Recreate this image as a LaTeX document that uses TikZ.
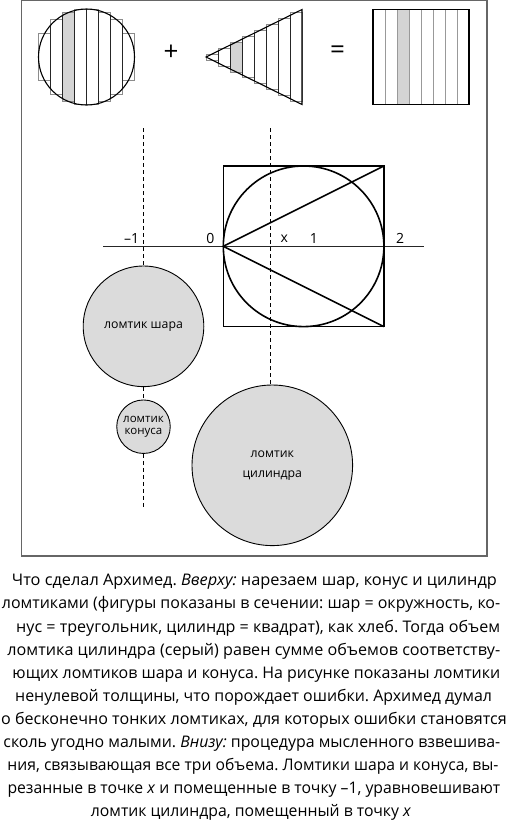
\documentclass[tikz,border=0pt]{standalone}
\usepackage{graphicx}
\usepackage{fontspec}
\setmainfont{Open Sans}
\frenchspacing
\begin{document}
\begin{tikzpicture}[x=1pt,y=-1pt,
  outerframe/.style={draw=black!60,line width=1.2pt},
  slicebox/.style={draw=black!45,line width=0.6pt,fill=white},
  divider/.style={draw=black!85,line width=0.7pt},
  cyldiv/.style={draw=black!40,line width=0.8pt},
  figoutline/.style={draw=black,line width=1.1pt},
  bigline/.style={draw=black,line width=1.6pt},
  axisline/.style={draw=black!85,line width=0.9pt},
  dashline/.style={draw=black,line width=0.9pt,dash pattern=on 4pt off 3pt},
  slicefill/.style={fill=black!17},
  disc/.style={circle,draw=black,line width=0.9pt,fill=black!14,inner sep=0pt,align=center},
  axlab/.style={font=\fontsize{14}{16}\selectfont,inner sep=0pt},
  opsign/.style={font=\fontsize{26}{26}\selectfont,inner sep=0pt},
  captionline/.style={anchor=base west,inner sep=0pt,font=\fontsize{16}{18}\selectfont}
]
\useasboundingbox (0,0) rectangle (508,823);
\draw[outerframe] (21.5,0.8) rectangle (487,556);

% ---- top: sphere sliced
\foreach \k in {0,...,7} {
  \pgfmathsetmacro\m{(\k+0.5)/4-1}
  \pgfmathsetmacro\h{48*sqrt(1-\m*\m)}
  \draw[slicebox] ({38.5+12*\k},{57-\h}) rectangle ({50.5+12*\k},{57+\h});
}
\draw[slicebox,slicefill] (62.5,12.5) rectangle (74.5,101.5);
\begin{scope}
  \clip (86.5,57) circle[radius=48pt];
  \foreach \k in {1,...,7} \draw[divider] ({38.5+12*\k},0) -- ({38.5+12*\k},120);
\end{scope}
\draw[figoutline] (86.5,57) circle[radius=48pt];

\node[opsign] (plus) at (171,53) {+};

% ---- top: cone sliced
\foreach \k in {0,...,7} {
  \pgfmathsetmacro\h{47.5*(\k+0.5)/8}
  \draw[slicebox] ({206+12*\k},{57-\h}) rectangle ({218+12*\k},{57+\h});
}
\draw[slicebox,slicefill] (230,42.2) rectangle (242,71.8);
\begin{scope}
  \clip (302,9.5) -- (206,57) -- (302,104.5) -- cycle;
  \foreach \k in {1,...,7} \draw[divider] ({206+12*\k},0) -- ({206+12*\k},120);
\end{scope}
\draw[figoutline] (302,9.5) -- (206,57) -- (302,104.5) -- cycle;

\node[opsign] (eq) at (337.5,52) {=};

% ---- top: cylinder sliced
\fill[slicefill] (397,9.5) rectangle (409,104.5);
\foreach \k in {1,...,7} \draw[cyldiv] ({373+12*\k},9.5) -- ({373+12*\k},104.5);
\draw[figoutline] (373,9.5) rectangle (469,104.5);

% ---- bottom: balance
\coordinate (O) at (223.3,246.3);
\coordinate (TR) at (383.9,166);
\coordinate (BR) at (383.9,326.6);
\draw[axisline] (103.3,246.3) -- (424,246.3);
\draw[bigline] (223.3,166) rectangle (BR);
\draw[bigline] (303.6,246.3) circle[radius=80.3pt];
\draw[bigline] (TR) -- (O) -- (BR);

\node[axlab] (lm1) at (131.7,238.3) {–1};
\node[axlab] (l0) at (210.5,238.3) {0};
\node[axlab] (lx) at (284.3,238.3) {x};
\node[axlab] (l1) at (314,238.3) {1};
\node[axlab] (l2) at (400,238.3) {2};

\coordinate (ltop) at (143.5,128.3);
\coordinate (lbot) at (143.5,506.7);
\coordinate (xtop) at (270.3,128.3);

\node[disc,minimum size=120.6pt,font=\fontsize{12.3}{14}\selectfont] (sph) at (143.5,326.3) {ломтик шара};
\node[disc,minimum size=53.5pt,font=\fontsize{11.5}{12.7}\selectfont] (con) at (143.5,426.7) {ломтик\\конуса};
\node[disc,minimum size=160.6pt,font=\fontsize{12.3}{20}\selectfont] (cyl) at (272.3,465.3) {ломтик\\цилиндра};

\draw[dashline] (ltop) -- (sph.north);
\draw[dashline] (sph.south) -- (con.north);
\draw[dashline] (con.south) -- (lbot);
\draw[dashline] (xtop) -- (xtop |- cyl.north);

% ---- caption
\foreach \s/\e/\t [count=\i] in {
  11.7/496.7/{Что сделал Архимед. \textit{Вверху:} нарезаем шар, конус и цилиндр},
  1.7/500/{ломтиками (фигуры показаны в сечении: шар = окружность, ко-},
  16/500/{нус = треугольник, цилиндр = квадрат), как хлеб. Тогда объем},
  7.3/500/{ломтика цилиндра (серый) равен сумме объемов соответству-},
  12.3/500/{ющих ломтиков шара и конуса. На рисунке показаны ломтики},
  15/491.7/{ненулевой толщины, что порождает ошибки. Архимед думал},
  1/506.5/{о бесконечно тонких ломтиках, для которых ошибки становятся},
  3.3/500/{сколь угодно малыми. \textit{Внизу:} процедура мысленного взвешива-},
  7.3/498.3/{ния, связывающая все три объема. Ломтики шара и конуса, вы-},
  7.3/500/{резанные в точке \textit{x} и помещенные в точку –1, уравновешивают},
  90.7/415/{ломтик цилиндра, помещенный в точку \textit{x}}
} {
  \pgfmathsetmacro\w{\e-\s}
  \node[captionline] (c\i) at (\s,{585.8+23.1*(\i-1)}) {\resizebox{\w pt}{\height}{\t}};
}
\end{tikzpicture}
\end{document}
